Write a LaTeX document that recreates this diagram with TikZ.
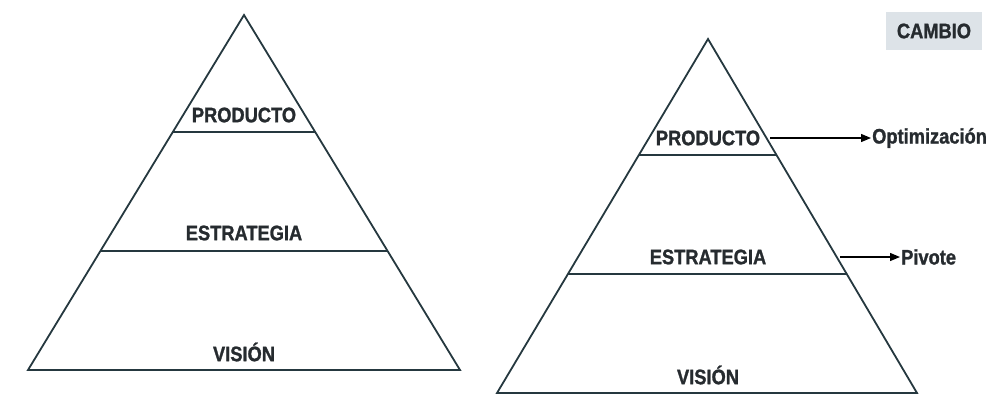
\documentclass[tikz,border=0pt]{standalone}
\usepackage{fontspec}
\setmainfont{Liberation Sans}
\newfontfamily\lblfont{Liberation Sans}[FakeStretch=0.87,BoldFeatures={FakeBold=1.2}]
\usetikzlibrary{arrows.meta,calc}
\definecolor{linec}{HTML}{25383F}
\definecolor{textc}{HTML}{262B2F}
\definecolor{boxc}{HTML}{DDE3E8}
\tikzset{
  edge/.style={draw=linec,line width=1.8pt,line join=miter},
  lbl/.style={text=textc,font=\lblfont\fontsize{21}{23}\selectfont\bfseries,inner sep=0pt},
  arr/.style={draw=black,line width=1.3pt,-{Triangle[length=10pt,width=8pt]},shorten >=1pt},
}
\begin{document}
\begin{tikzpicture}[x=1pt,y=-1pt]
\useasboundingbox (0,0) rectangle (995,405);
% left pyramid
\coordinate (LA) at (244,15);
\coordinate (LL) at (28,370);
\coordinate (LR) at (460,370);
\draw[edge] (LA) -- (LR) -- (LL) -- cycle;
\draw[edge] ($(LA)!0.329!(LL)$) coordinate (LP1) -- ($(LA)!0.329!(LR)$) coordinate (LP2);
\draw[edge] ($(LA)!0.665!(LL)$) coordinate (LS1) -- ($(LA)!0.665!(LR)$) coordinate (LS2);
\node[lbl] (lprod) at (244,115) {PRODUCTO};
\node[lbl] (lestr) at (244,233) {ESTRATEGIA};
\node[lbl] (lvis) at (244,352) {VISIÓN};
% right pyramid
\coordinate (RA) at (708,39);
\coordinate (RL) at (497,393);
\coordinate (RR) at (917,393);
\draw[edge] (RA) -- (RR) -- (RL) -- cycle;
\draw[edge] ($(RA)!0.328!(RL)$) coordinate (RP1) -- ($(RA)!0.328!(RR)$) coordinate (RP2);
\draw[edge] ($(RA)!0.664!(RL)$) coordinate (RS1) -- ($(RA)!0.664!(RR)$) coordinate (RS2);
\node[lbl] (rprod) at (708,138) {PRODUCTO};
\node[lbl] (restr) at (708,257) {ESTRATEGIA};
\node[lbl] (rvis) at (708,375) {VISIÓN};
% change box
\node[lbl,fill=boxc,minimum width=96pt,minimum height=38pt] (cambio) at (934,31) {CAMBIO};
% arrows
\coordinate (o1) at (770,138);
\coordinate (p1) at (840,257);
\node[lbl,anchor=west] (opt) at (872,138) {Optimización};
\node[lbl,anchor=west] (piv) at (901,257) {Pivote};
\draw[arr] (o1) -- (opt.west);
\draw[arr] (p1) -- (piv.west);
\end{tikzpicture}
\end{document}
